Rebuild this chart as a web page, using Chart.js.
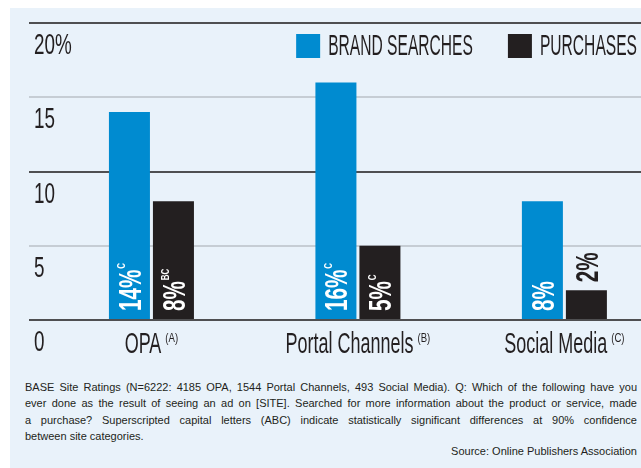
<!DOCTYPE html>
<html>
<head>
<meta charset="utf-8">
<script src="https://cdn.jsdelivr.net/npm/chart.js@4.4.1/dist/chart.umd.min.js"></script>
<style>
  html, body { margin: 0; padding: 0; background: #fff; }
  body { width: 641px; height: 468px; overflow: hidden; position: relative; font-family: 'Liberation Sans', Arial, sans-serif; }
  #panel { position: absolute; left: 10px; top: 8px; right: 0; bottom: 0; background: #e9f2fa; }
  #chart { position: absolute; left: 0; top: 0; }
  #notes { position: absolute; left: 25px; top: 379px; width: 612px; font-size: 11px; line-height: 16.4px; color: #231f20; }
  #notes .line { text-align: justify; text-align-last: justify; }
  #notes .last { text-align: left; }
  #notes .source { text-align: right; margin-top: -2px; }
</style>
</head>
<body>
<div id="panel"></div>
<canvas id="chart" width="641" height="370"></canvas>
<div id="notes">
  <div class="line">BASE Site Ratings (N=6222: 4185 OPA, 1544 Portal Channels, 493 Social Media). Q: Which of the following have you</div>
  <div class="line">ever done as the result of seeing an ad on [SITE]. Searched for more information about the product or service, made</div>
  <div class="line">a purchase? Superscripted capital letters (ABC) indicate statistically significant differences at 90% confidence</div>
  <div class="last">between site categories.</div>
  <div class="source">Source: Online Publishers Association</div>
</div>
<script>
// site categories and their significance tags
const categories = ['OPA', 'Portal Channels', 'Social Media'];
const categoryTags = ['(A)', '(B)', '(C)'];

// % of respondents
const brandSearches = [14, 16, 8];
const purchases = [8, 5, 2];

// superscripted significance letters per bar
const brandSig = ['C', 'C', ''];
const purchaseSig = ['BC', 'C', ''];

// y axis
const yTickLabels = ['0', '5', '10', '15', '20%'];

const BLUE = '#008bd0';
const BLACK = '#231f20';
const INK = '#231f20';
const FONT = '"Liberation Sans", Arial, sans-serif';

// draws horizontally squeezed text so it reads like a condensed face
function squeezed(c, text, x, y, sx) {
  c.save();
  c.translate(x, y);
  c.scale(sx, 1);
  c.fillText(text, 0, 0);
  c.restore();
}

const textPlugin = {
  id: 'texts',
  afterDatasetsDraw(chart) {
    const c = chart.ctx;
    const area = chart.chartArea;
    const xs = chart.scales.x;
    const ys = chart.scales.y;
    c.save();
    c.textAlign = 'left';
    c.textBaseline = 'alphabetic';
    c.fillStyle = INK;

    // y tick labels, sitting under their grid line
    c.font = '29px ' + FONT;
    ys.ticks.forEach(t => {
      squeezed(c, t.label, 34, ys.getPixelForValue(t.value) + 31, 0.65);
    });

    // category labels with superscript tag
    categories.forEach((name, i) => {
      const cx = xs.getPixelForValue(i);
      c.font = '29px ' + FONT;
      const mw = c.measureText(name).width * 0.62;
      c.font = '12px ' + FONT;
      const sw = c.measureText(categoryTags[i]).width * 0.8;
      const left = cx - (mw + 4 + sw) / 2;
      c.font = '29px ' + FONT;
      squeezed(c, name, left, area.bottom + 33, 0.62);
      c.font = '12px ' + FONT;
      squeezed(c, categoryTags[i], left + mw + 4, area.bottom + 22, 0.8);
    });

    // legend, right aligned along the top
    c.font = '30px ' + FONT;
    let lx = area.right - 4;
    const sets = chart.data.datasets;
    for (let i = sets.length - 1; i >= 0; i--) {
      const w = c.measureText(sets[i].label).width * 0.52;
      lx -= w;
      c.fillStyle = INK;
      squeezed(c, sets[i].label, lx, area.top + 32, 0.52);
      lx -= 8 + 24;
      c.fillStyle = sets[i].backgroundColor;
      c.fillRect(lx, area.top + 11, 24, 24);
      lx -= 35;
    }

    // value labels, rotated, inside the bar when they fit
    sets.forEach((ds, di) => {
      const meta = chart.getDatasetMeta(di);
      meta.data.forEach((bar, i) => {
        const main = ds.data[i].y + '%';
        const sup = ds.sig[i];
        c.font = 'bold 32px ' + FONT;
        const mw = c.measureText(main).width * 0.645;
        c.font = 'bold 10px ' + FONT;
        const sw = sup ? c.measureText(sup).width * 0.8 + 1 : 0;
        const inside = bar.base - bar.y >= mw + sw + 16;
        c.save();
        c.translate(bar.x + 11.5, inside ? bar.base - 8 : bar.y - 8);
        c.rotate(-Math.PI / 2);
        c.fillStyle = inside ? '#ffffff' : INK;
        c.font = 'bold 32px ' + FONT;
        squeezed(c, main, 0, 0, 0.645);
        if (sup) {
          c.font = 'bold 10px ' + FONT;
          squeezed(c, sup, mw + 1, -15.8, 0.8);
        }
        c.restore();
      });
    });
    c.restore();
  }
};

new Chart(document.getElementById('chart'), {
  type: 'bar',
  data: {
    datasets: [
      { label: 'BRAND SEARCHES', data: brandSearches.map((y, x) => ({ x, y })), backgroundColor: BLUE, sig: brandSig },
      { label: 'PURCHASES', data: purchases.map((y, x) => ({ x, y })), backgroundColor: BLACK, sig: purchaseSig }
    ]
  },
  options: {
    responsive: false,
    animation: false,
    devicePixelRatio: 1,
    layout: { padding: { left: 29, right: 0, top: 23, bottom: 50 } },
    datasets: { bar: { categoryPercentage: 0.4262, barPercentage: 0.932 } },
    plugins: { legend: { display: false }, tooltip: { enabled: false } },
    scales: {
      x: {
        type: 'linear',
        offset: false,
        min: -0.593,
        max: 2.371,
        afterBuildTicks: s => { s.ticks = categories.map((c, i) => ({ value: i })); },
        ticks: { display: false },
        grid: { display: false, drawTicks: false },
        border: { display: false }
      },
      y: {
        min: 0,
        max: 20,
        ticks: { stepSize: 5, display: false, callback: (v, i) => yTickLabels[i] },
        grid: {
          color: c => (c.tick.value % 10 === 0 ? '#4f4f51' : '#c6cdd4'),
          lineWidth: 2,
          drawTicks: false
        },
        border: { display: false }
      }
    }
  },
  plugins: [textPlugin]
});
</script>
</body>
</html>
